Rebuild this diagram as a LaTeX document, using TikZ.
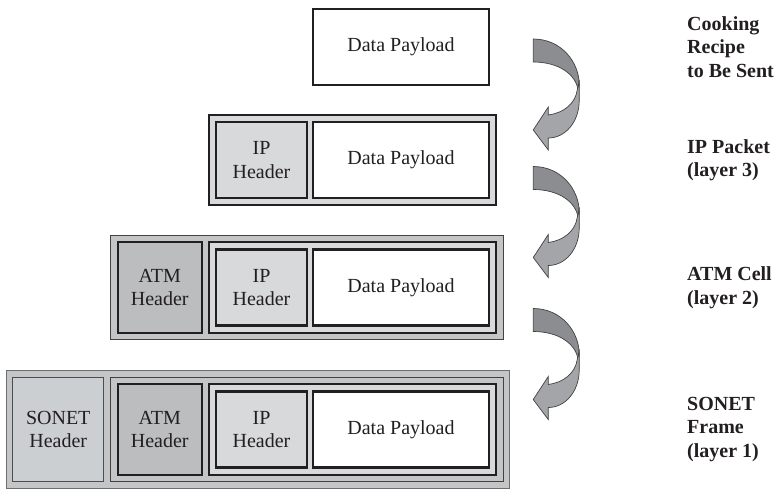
\documentclass[tikz,border=0pt]{standalone}
\usepackage{fontspec}
\setmainfont{Liberation Serif}
\usetikzlibrary{positioning, calc, fit}

\definecolor{boxline}{HTML}{231F20}
\definecolor{ipgray}{HTML}{D8D9DB}
\definecolor{atmdark}{HTML}{BCBDBF}
\definecolor{atmgray}{HTML}{C4C5C7}
\definecolor{sonetgray}{HTML}{CCCFD2}
\definecolor{arrowdark}{HTML}{8B8D90}
\definecolor{arrowlight}{HTML}{A3A5A8}

\pgfdeclarelayer{sonetlayer}
\pgfdeclarelayer{atmlayer}
\pgfdeclarelayer{iplayer}
\pgfsetlayers{sonetlayer,atmlayer,iplayer,main}

\begin{document}
\begin{tikzpicture}[x=1pt, y=-1pt,
    box/.style={draw=boxline, rectangle, align=center, inner sep=0pt, text=boxline, font=\fontsize{20}{23.5}\selectfont},
    payload/.style={box, fill=white, line width=2.5pt, minimum width=176pt, minimum height=76pt},
    iphdr/.style={box, fill=ipgray, line width=2.5pt, minimum width=91pt, minimum height=76pt},
    ipframe/.style={draw=boxline, fill=ipgray, line width=2pt, inner sep=6pt},
    atmhdr/.style={box, fill=atmdark, line width=2pt, minimum width=84pt, minimum height=90.5pt},
    atmframe/.style={draw=boxline!85, fill=atmgray, line width=1.2pt, inner sep=6pt},
    sonethdr/.style={box, draw=boxline!80, fill=sonetgray, line width=1pt, minimum width=91pt, minimum height=104.5pt},
    sonetframe/.style={draw=boxline!65, fill=atmgray, line width=1pt, inner sep=6pt},
    layerlbl/.style={anchor=west, align=left, inner sep=0pt, text=boxline, font=\bfseries\fontsize{20}{23.5}\selectfont},
    turnarrow/.pic={
      \filldraw[fill=arrowdark, draw=boxline!85, line width=0.7pt]
        (0,-91) .. controls (28,-91) and (46,-68) .. (46,-45) -- (45,-39)
        .. controls (43,-56) and (25,-68) .. (0,-68) -- cycle;
      \filldraw[fill=arrowlight, draw=boxline!85, line width=0.7pt]
        (46,-50) -- (46,-30) .. controls (46,-8) and (32,8) .. (15,8) -- (15,20) -- (0,0)
        -- (15,-23) -- (15,-15) .. controls (30,-17) and (42,-26) .. (44,-40)
        .. controls (45,-44) .. (46,-50) -- cycle;
    }]
  \useasboundingbox (0,0) rectangle (777,488);

  % recipe
  \node[payload] (pay1) at (401,47) {Data Payload};

  % IP packet
  \node[payload] (pay2) at (401,160) {Data Payload};
  \node[iphdr, left=3.5pt of pay2] (iph2) {IP\\Header};
  \begin{pgfonlayer}{iplayer}
    \node[ipframe, fit=(iph2)(pay2)] (ipf2) {};
  \end{pgfonlayer}

  % ATM cell
  \node[payload] (pay3) at (401,287.5) {Data Payload};
  \node[iphdr, left=3.5pt of pay3] (iph3) {IP\\Header};
  \begin{pgfonlayer}{iplayer}
    \node[ipframe, fit=(iph3)(pay3)] (ipf3) {};
  \end{pgfonlayer}
  \node[atmhdr, left=5pt of ipf3] (atmh3) {ATM\\Header};
  \begin{pgfonlayer}{atmlayer}
    \node[atmframe, fit=(atmh3)(ipf3)] (atmf3) {};
  \end{pgfonlayer}

  % SONET frame
  \node[payload] (pay4) at (401,429.5) {Data Payload};
  \node[iphdr, left=3.5pt of pay4] (iph4) {IP\\Header};
  \begin{pgfonlayer}{iplayer}
    \node[ipframe, fit=(iph4)(pay4)] (ipf4) {};
  \end{pgfonlayer}
  \node[atmhdr, left=5pt of ipf4] (atmh4) {ATM\\Header};
  \begin{pgfonlayer}{atmlayer}
    \node[atmframe, fit=(atmh4)(ipf4)] (atmf4) {};
  \end{pgfonlayer}
  \node[sonethdr, left=5.9pt of atmf4] (sonh4) {SONET\\Header};
  \begin{pgfonlayer}{sonetlayer}
    \node[sonetframe, fit=(sonh4)(atmf4)] (sonf4) {};
  \end{pgfonlayer}

  % layer names
  \node[layerlbl] (lbl1) at (687,47) {Cooking\\Recipe\\to Be Sent};
  \node[layerlbl] (lbl2) at (687,160) {IP Packet\\(layer 3)};
  \node[layerlbl] (lbl3) at (687,287.5) {ATM Cell\\(layer 2)};
  \node[layerlbl] (lbl4) at (687,429.5) {SONET\\Frame\\(layer 1)};

  % turning arrows
  \foreach \nxt in {pay2, pay3, pay4}
    \pic at ($(\nxt.east)+(43,-30)$) {turnarrow};
\end{tikzpicture}
\end{document}
